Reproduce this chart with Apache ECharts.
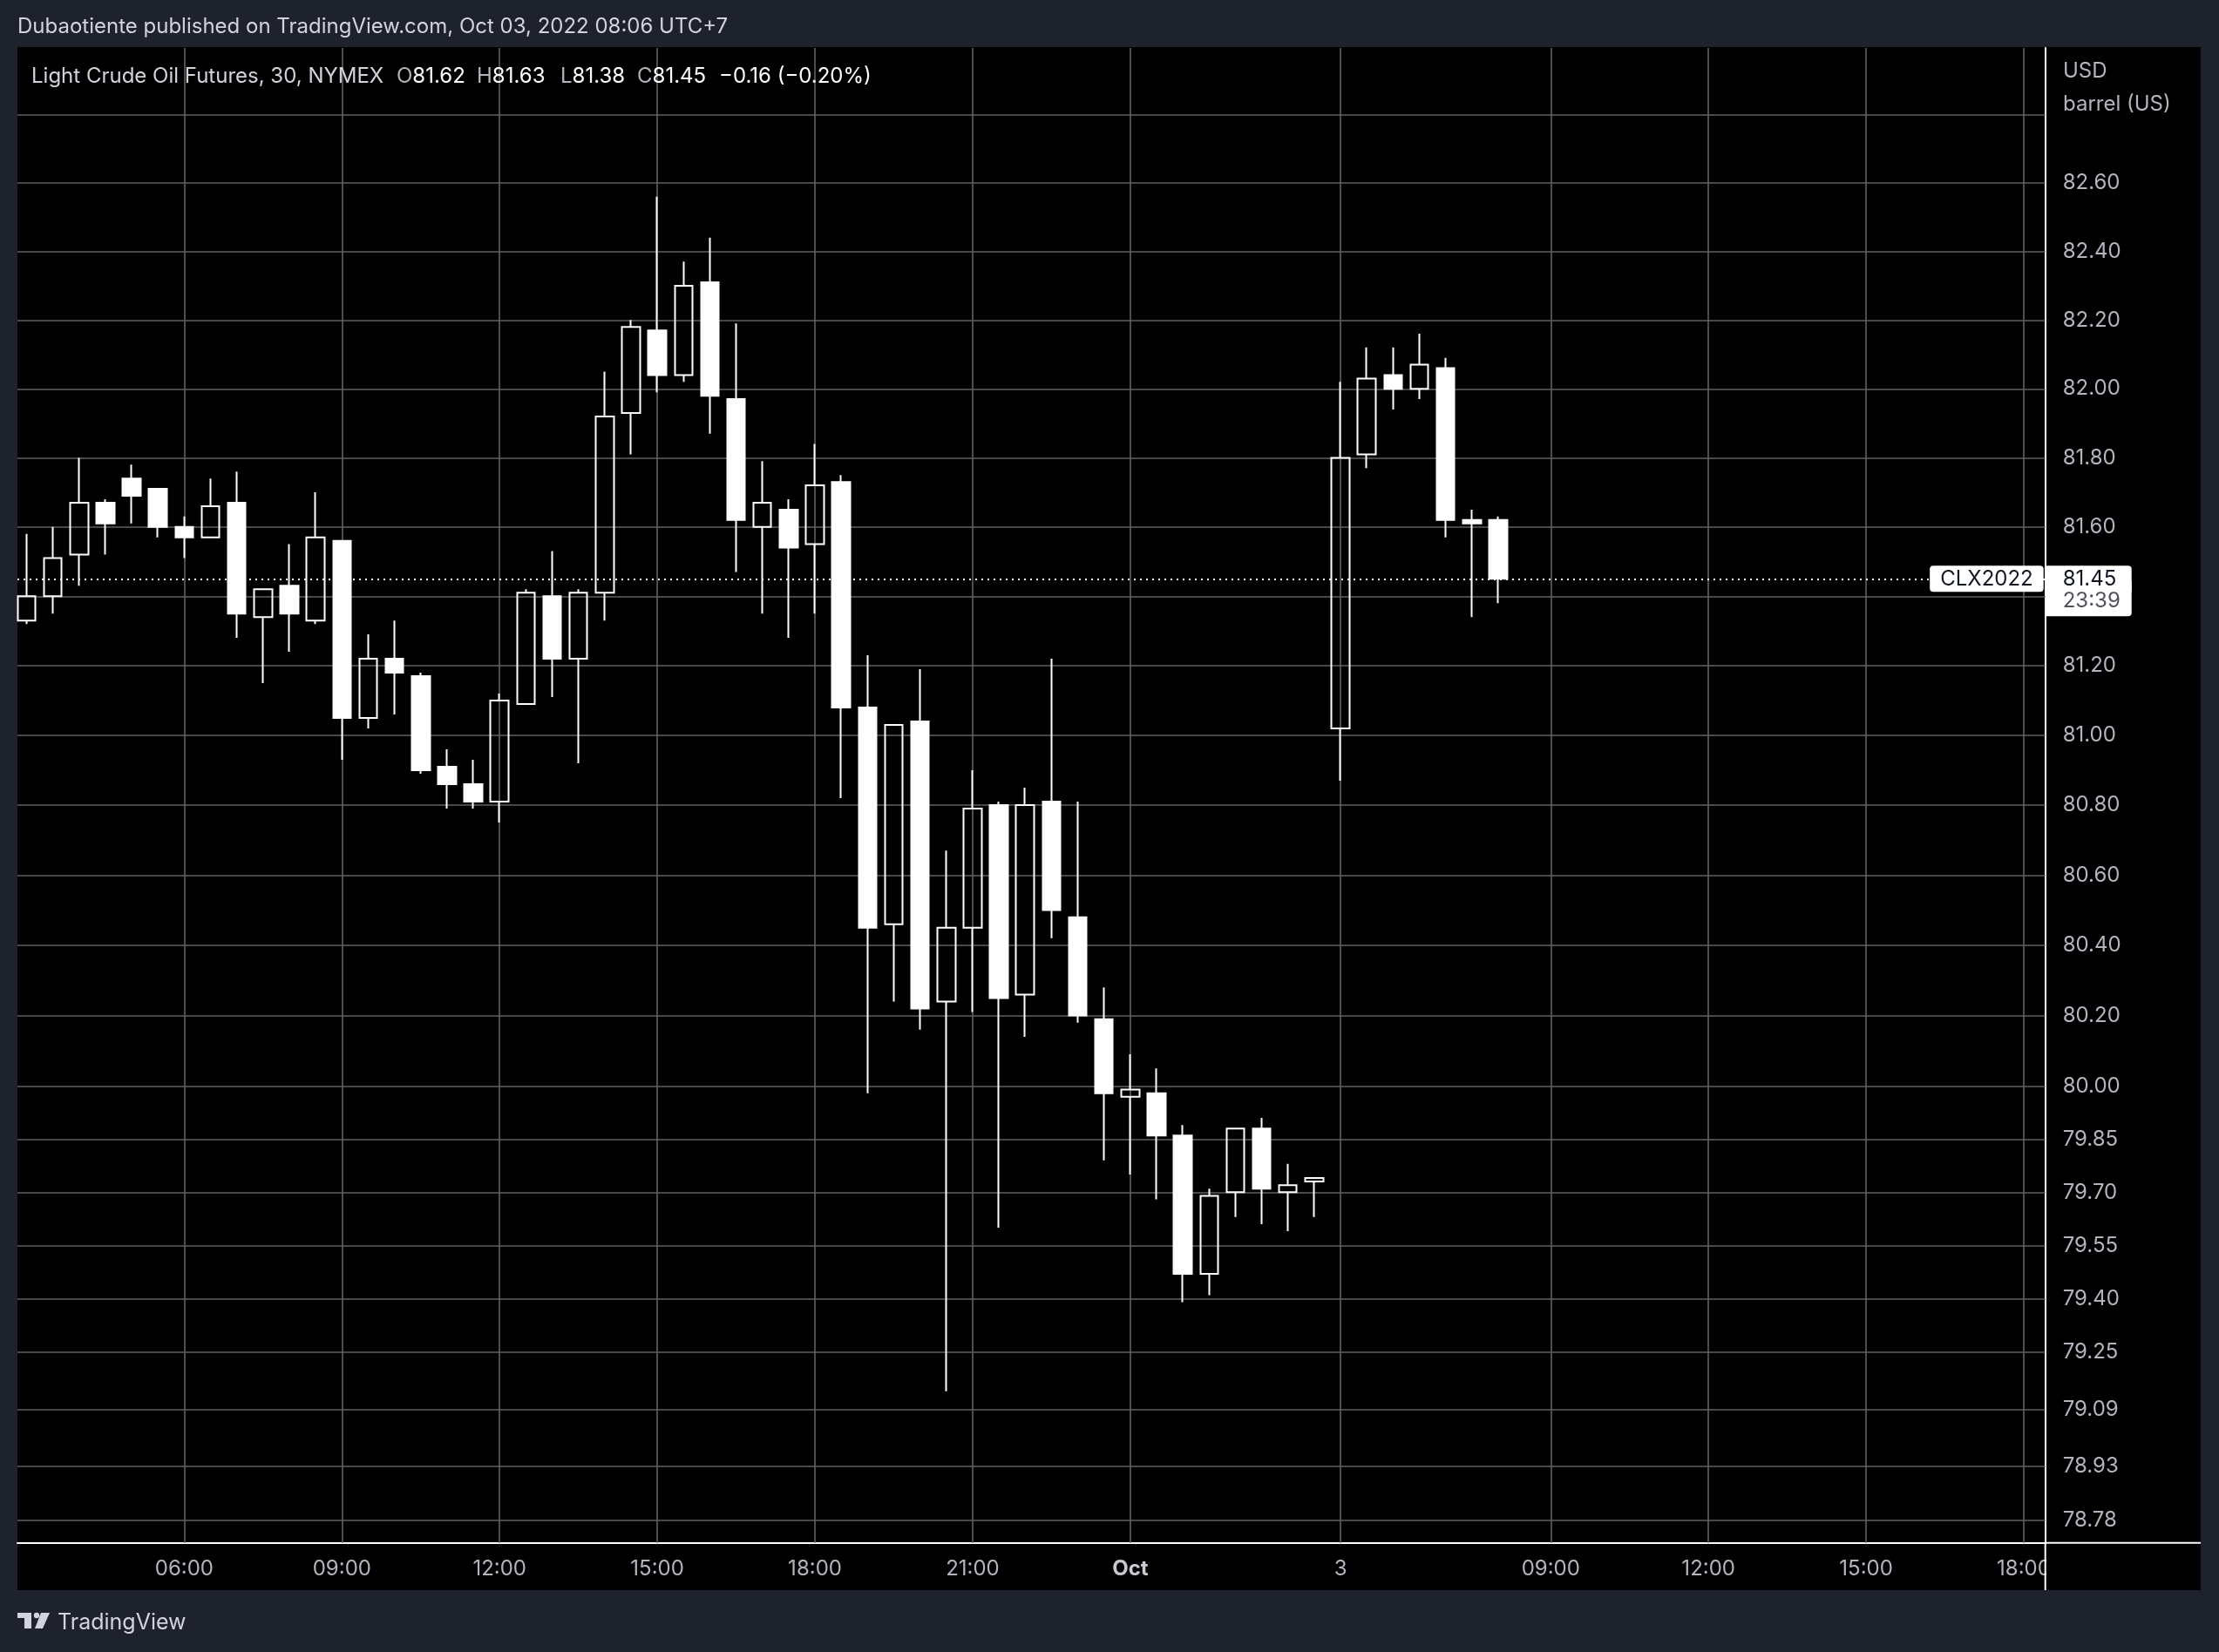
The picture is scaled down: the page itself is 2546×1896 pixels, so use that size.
<!DOCTYPE html>
<html>
<head>
<meta charset="utf-8">
<script src="https://cdn.jsdelivr.net/npm/echarts@6/dist/echarts.min.js"></script>
<style>
html,body{margin:0;padding:0;background:#1e222d;}
#c{width:2546px;height:1896px;}
</style>
</head>
<body>
<div id="c"></div>
<script>
// ---- data (30-minute bars, UTC+7) ----
const times = [
  '2022-09-30 03:00','2022-09-30 03:30','2022-09-30 04:00','2022-09-30 04:30','2022-09-30 05:00','2022-09-30 05:30',
  '2022-09-30 06:00','2022-09-30 06:30','2022-09-30 07:00','2022-09-30 07:30','2022-09-30 08:00','2022-09-30 08:30',
  '2022-09-30 09:00','2022-09-30 09:30','2022-09-30 10:00','2022-09-30 10:30','2022-09-30 11:00','2022-09-30 11:30',
  '2022-09-30 12:00','2022-09-30 12:30','2022-09-30 13:00','2022-09-30 13:30','2022-09-30 14:00','2022-09-30 14:30',
  '2022-09-30 15:00','2022-09-30 15:30','2022-09-30 16:00','2022-09-30 16:30','2022-09-30 17:00','2022-09-30 17:30',
  '2022-09-30 18:00','2022-09-30 18:30','2022-09-30 19:00','2022-09-30 19:30','2022-09-30 20:00','2022-09-30 20:30',
  '2022-09-30 21:00','2022-09-30 21:30','2022-09-30 22:00','2022-09-30 22:30','2022-09-30 23:00','2022-09-30 23:30',
  '2022-10-01 00:00','2022-10-01 00:30','2022-10-01 01:00','2022-10-01 01:30','2022-10-01 02:00','2022-10-01 02:30',
  '2022-10-01 03:00','2022-10-01 03:30',
  '2022-10-03 05:00','2022-10-03 05:30','2022-10-03 06:00','2022-10-03 06:30','2022-10-03 07:00','2022-10-03 07:30',
  '2022-10-03 08:00'
];
const opens = [
  81.33,81.40,81.52,81.67,81.74,81.71,81.60,81.57,81.67,81.34,81.43,81.33,
  81.56,81.05,81.22,81.17,80.91,80.86,80.81,81.09,81.40,81.22,81.41,81.93,
  82.17,82.04,82.31,81.97,81.60,81.65,81.55,81.73,81.08,80.46,81.04,80.24,
  80.45,80.80,80.26,80.81,80.48,80.19,79.97,79.98,79.86,79.47,79.70,79.88,
  79.70,79.73,
  81.02,81.81,82.04,82.00,82.06,81.62,81.62
];
const closes = [
  81.40,81.51,81.67,81.61,81.69,81.60,81.57,81.66,81.35,81.42,81.35,81.57,
  81.05,81.22,81.18,80.90,80.86,80.81,81.10,81.41,81.22,81.41,81.92,82.18,
  82.04,82.30,81.98,81.62,81.67,81.54,81.72,81.08,80.45,81.03,80.22,80.45,
  80.79,80.25,80.80,80.50,80.20,79.98,79.99,79.86,79.47,79.69,79.88,79.71,
  79.72,79.74,
  81.80,82.03,82.00,82.07,81.62,81.61,81.45
];
const lows = [
  81.32,81.35,81.43,81.52,81.61,81.57,81.51,81.57,81.28,81.15,81.24,81.32,
  80.93,81.02,81.06,80.89,80.79,80.79,80.75,81.09,81.11,80.92,81.33,81.81,
  81.99,82.02,81.87,81.47,81.35,81.28,81.35,80.82,79.98,80.24,80.16,79.14,
  80.21,79.60,80.14,80.42,80.18,79.79,79.75,79.68,79.39,79.41,79.63,79.61,
  79.59,79.63,
  80.87,81.77,81.94,81.97,81.57,81.34,81.38
];
const highs = [
  81.58,81.60,81.80,81.68,81.78,81.71,81.63,81.74,81.76,81.42,81.55,81.70,
  81.56,81.29,81.33,81.18,80.96,80.93,81.12,81.42,81.53,81.42,82.05,82.20,
  82.56,82.37,82.44,82.19,81.79,81.68,81.84,81.75,81.23,81.03,81.19,80.67,
  80.90,80.81,80.85,81.22,80.81,80.28,80.09,80.05,79.89,79.71,79.88,79.91,
  79.78,79.74,
  82.02,82.12,82.12,82.16,82.09,81.65,81.63
];
// time-axis ticks (bar index -> label)
const tickIndex  = [6, 12, 18, 24, 30, 36, 42, 50, 58, 64, 70, 76];
const tickLabels = ['06:00','09:00','12:00','15:00','18:00','21:00','Oct','3','09:00','12:00','15:00','18:00'];
// price grid lines and labels
const priceGrid   = [82.80, 82.60, 82.40, 82.20, 82.00, 81.80, 81.60, 81.40, 81.20, 81.00, 80.80, 80.60, 80.40, 80.20, 80.00, 79.85, 79.70, 79.55, 79.40, 79.25, 79.09, 78.93, 78.78];
const priceLabels = ['', '82.60','82.40','82.20','82.00','81.80','81.60','', '81.20','81.00','80.80','80.60','80.40','80.20','80.00','79.85','79.70','79.55','79.40','79.25','79.09','78.93','78.78'];
const lastPrice = 81.45;
const symbolName = 'CLX2022';
const countdown = '23:39';

// ---- chart ----
const FONT = 'Inter, "Noto Sans", sans-serif';
const chart = echarts.init(document.getElementById('c'));
const candleData = times.map((t, i) => [i, opens[i], closes[i], lows[i], highs[i]]);

const gridLineData = [];
priceGrid.forEach((p, i) => {
  gridLineData.push({
    yAxis: p,
    label: priceLabels[i] ? { show: true, formatter: priceLabels[i] } : { show: false }
  });
});
tickIndex.forEach(x => gridLineData.push({ xAxis: x, label: { show: false } }));

const legendRich = {
  l: { fill: '#b2b5be', fontFamily: FONT, fontSize: 24 },
  v: { fill: '#ffffff', fontFamily: FONT, fontSize: 24 }
};

const option = {
  backgroundColor: '#1e222d',
  animation: false,
  grid: { left: 20, top: 55, width: 2326.7, height: 1715.7 },
  xAxis: {
    type: 'value',
    min: -0.348,
    max: 76.82,
    axisLine: { show: true, onZero: false, lineStyle: { color: '#ffffff', width: 2 } },
    axisTick: { show: false },
    splitLine: { show: false },
    axisLabel: {
      customValues: tickIndex,
      formatter: function (v) {
        const k = tickIndex.indexOf(Math.round(v));
        if (k < 0) return '';
        const s = tickLabels[k];
        return s === 'Oct' ? '{b|' + s + '}' : s;
      },
      color: '#b2b5be',
      fontFamily: FONT,
      fontSize: 24,
      margin: 18,
      rich: { b: { fontWeight: 'bold', color: '#c8cad2', fontFamily: FONT, fontSize: 24 } }
    }
  },
  yAxis: {
    type: 'log',
    logBase: 10,
    min: 78.7166,
    max: 82.9959,
    position: 'right',
    axisLine: { show: true, onZero: false, lineStyle: { color: '#ffffff', width: 2 } },
    axisTick: { show: false },
    axisLabel: { show: false },
    splitLine: { show: false }
  },
  series: [
    {
      type: 'line',
      data: [],
      silent: true,
      markLine: {
        silent: true,
        z: 1,
        animation: false,
        symbol: ['none', 'none'],
        lineStyle: { color: '#616161', width: 1.6, type: 'solid' },
        label: { position: 'end', distance: 20, color: '#b2b5be', fontFamily: FONT, fontSize: 24 },
        emphasis: { disabled: true },
        data: gridLineData
      }
    },
    {
      type: 'candlestick',
      name: 'CLX2022',
      z: 3,
      barWidth: 21,
      data: candleData,
      itemStyle: {
        color: 'rgba(0,0,0,0)',
        color0: '#ffffff',
        borderColor: '#ffffff',
        borderColor0: '#ffffff',
        borderWidth: 2
      },
      markLine: {
        silent: true,
        z: 10,
        animation: false,
        symbol: ['none', 'none'],
        emphasis: { disabled: true },
        data: [
          {
            yAxis: lastPrice,
            lineStyle: { color: '#ffffff', width: 2, type: [2, 5] },
            label: {
              show: true, position: 'insideEnd', distance: 2, formatter: symbolName,
              align: 'right', verticalAlign: 'middle',
              backgroundColor: '#ffffff', color: '#131722', fontFamily: FONT, fontSize: 24,
              padding: [3, 12, 3, 12], borderRadius: 4
            }
          },
          {
            yAxis: lastPrice,
            lineStyle: { color: 'rgba(0,0,0,0)', width: 0 },
            label: {
              show: true, opacity: 1, position: 'end', distance: 1, formatter: countdown,
              align: 'left', verticalAlign: 'top', width: 60,
              backgroundColor: '#ffffff', color: '#50535e', fontFamily: FONT, fontSize: 24,
              padding: [13, 19, 6, 19], borderRadius: [0, 4, 4, 0]
            }
          },
          {
            yAxis: lastPrice,
            lineStyle: { color: 'rgba(0,0,0,0)', width: 0 },
            label: {
              show: true, opacity: 1, position: 'end', distance: 1, formatter: lastPrice.toFixed(2),
              align: 'left', verticalAlign: 'middle', width: 60,
              backgroundColor: '#ffffff', color: '#131722', fontFamily: FONT, fontSize: 24,
              padding: [3, 19, 3, 19], borderRadius: [0, 4, 0, 0]
            }
          }
        ]
      }
    }
  ],
  graphic: [
    { type: 'rect', z: -100, silent: true, shape: { x: 20, y: 54, width: 2505, height: 1771 }, style: { fill: '#000000' } },
    { type: 'text', z: 5, x: 20, y: 31, style: { text: 'Dubaotiente published on TradingView.com, Oct 03, 2022 08:06 UTC+7', fill: '#d1d4dc', fontFamily: FONT, fontSize: 24, verticalAlign: 'middle' } },
    { type: 'text', z: 20, x: 36, y: 88, style: { text: 'Light Crude Oil Futures, 30, NYMEX', fill: '#d1d4dc', fontFamily: FONT, fontSize: 24, verticalAlign: 'middle' } },
    { type: 'text', z: 20, x: 455, y: 88, style: { text: '{l|O}{v|81.62}', rich: legendRich, verticalAlign: 'middle' } },
    { type: 'text', z: 20, x: 547, y: 88, style: { text: '{l|H}{v|81.63}', rich: legendRich, verticalAlign: 'middle' } },
    { type: 'text', z: 20, x: 643, y: 88, style: { text: '{l|L}{v|81.38}', rich: legendRich, verticalAlign: 'middle' } },
    { type: 'text', z: 20, x: 731, y: 88, style: { text: '{l|C}{v|81.45}', rich: legendRich, verticalAlign: 'middle' } },
    { type: 'text', z: 20, x: 825, y: 88, style: { text: '\u22120.16 (\u22120.20%)', fill: '#ffffff', fontFamily: FONT, fontSize: 24, verticalAlign: 'middle' } },
    { type: 'text', z: 20, x: 2367, y: 82, style: { text: 'USD', fill: '#b2b5be', fontFamily: FONT, fontSize: 24, verticalAlign: 'middle' } },
    { type: 'text', z: 20, x: 2367, y: 120, style: { text: 'barrel (US)', fill: '#b2b5be', fontFamily: FONT, fontSize: 24, verticalAlign: 'middle' } },
    { type: 'rect', z: 50, silent: true, shape: { x: 2348, y: 1772, width: 177, height: 53 }, style: { fill: '#000000' } },
    { type: 'line', z: 51, silent: true, shape: { x1: 2346.7, y1: 1770, x2: 2346.7, y2: 1825 }, style: { stroke: '#ffffff', lineWidth: 2 } },
    { type: 'line', z: 51, silent: true, shape: { x1: 2346, y1: 1770.7, x2: 2525, y2: 1770.7 }, style: { stroke: '#ffffff', lineWidth: 2 } },
    // TradingView logo
    { type: 'rect', z: 5, silent: true, shape: { x: 20, y: 1851, width: 16, height: 6 }, style: { fill: '#d1d4dc' } },
    { type: 'rect', z: 5, silent: true, shape: { x: 28, y: 1851, width: 8, height: 18 }, style: { fill: '#d1d4dc' } },
    { type: 'circle', z: 5, silent: true, shape: { cx: 42, cy: 1854, r: 3.2 }, style: { fill: '#d1d4dc' } },
    { type: 'polygon', z: 5, silent: true, shape: { points: [[47, 1851], [57, 1851], [49, 1869], [40, 1869]] }, style: { fill: '#d1d4dc' } },
    { type: 'text', z: 5, x: 66, y: 1862, style: { text: 'TradingView', fill: '#d1d4dc', fontFamily: FONT, fontSize: 25, verticalAlign: 'middle' } }
  ]
};
chart.setOption(option);
</script>
</body>
</html>
